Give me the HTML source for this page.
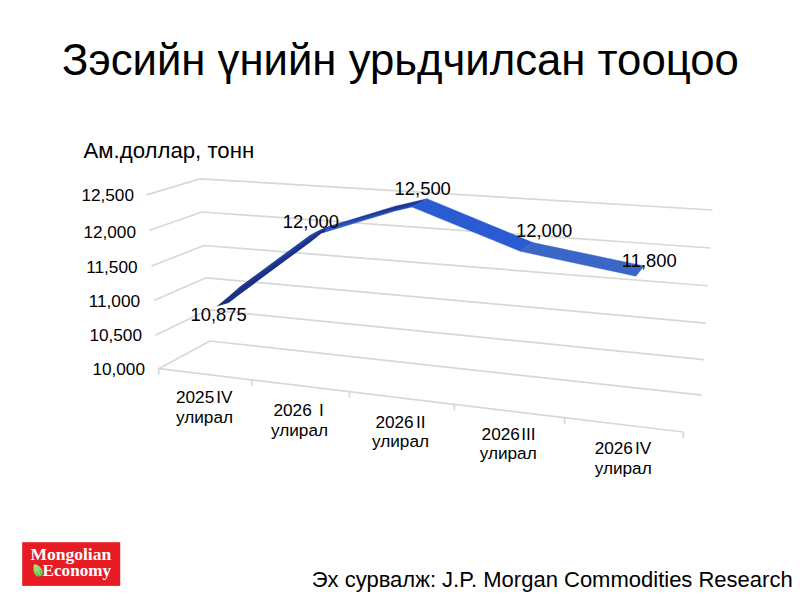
<!DOCTYPE html>
<html><head><meta charset="utf-8"><title>Зэсийн үнийн урьдчилсан тооцоо</title>
<style>
html,body{margin:0;padding:0;background:#fff;}
body{width:800px;height:600px;overflow:hidden;position:relative;}
svg{position:absolute;left:0;top:0;display:block;}
text{font-family:"Liberation Sans",Arial,"DejaVu Sans",sans-serif;fill:#000;}
.ax{font-size:17.2px;fill:#111;}
.cat{font-size:17.2px;fill:#111;}
.dl{font-size:18.4px;fill:#000;}
.logo{font-family:"Liberation Serif","Times New Roman",serif;font-weight:bold;font-size:17.5px;fill:#fff;}
</style></head>
<body>
<svg width="800" height="600" viewBox="0 0 800 600">
  <!-- title -->
  <text x="62" y="75" font-size="43.7">Зэсийн үнийн урьдчилсан тооцоо</text>
  <text x="83.5" y="157.9" font-size="22.2">Ам.доллар, тонн</text>

  <!-- gridlines -->
  <g fill="none" stroke="#d8d8d8" stroke-width="1.75" stroke-linejoin="round">
    <polyline points="146.5,194.8 200,178.8 712.5,210"/>
    <polyline points="149,230.5 202,212 710.3,248"/>
    <polyline points="151.5,266 204.1,245.5 708.1,285.75"/>
    <polyline points="153.9,300.5 206.1,277.8 705.9,323.1"/>
    <polyline points="155.4,335.2 208.1,309.7 703.8,359.6"/>
    <polyline points="158.7,368.7 210,341 701.7,395.2"/>
    <line x1="158.7" y1="368.7" x2="683.3" y2="432"/>
    <line x1="158.7" y1="368.7" x2="158.7" y2="374.7"/>
    <line x1="251.75" y1="379.9" x2="251.75" y2="385.9"/>
    <line x1="349.5" y1="391.7" x2="349.5" y2="397.7"/>
    <line x1="454.4" y1="404.4" x2="454.4" y2="410.4"/>
    <line x1="564.5" y1="417.7" x2="564.5" y2="423.7"/>
    <line x1="683.3" y1="432" x2="683.3" y2="438"/>
  </g>

  <!-- y axis labels -->
  <g class="ax" text-anchor="end">
    <text x="134" y="201">12,500</text>
    <text x="136" y="238">12,000</text>
    <text x="137.5" y="272.5">11,500</text>
    <text x="140" y="307">11,000</text>
    <text x="142" y="341">10,500</text>
    <text x="145" y="375">10,000</text>
  </g>

  <!-- category labels -->
  <g class="cat">
    <text x="176" y="403">2025</text><text x="232.5" y="403" text-anchor="end">IV</text><text x="176" y="422.5">улирал</text>
    <text x="273.5" y="415.6">2026</text><text x="323.75" y="415.6" text-anchor="end">I</text><text x="271" y="435.6">улирал</text>
    <text x="375.4" y="427.5">2026</text><text x="425.6" y="427.5" text-anchor="end">II</text><text x="372" y="447">улирал</text>
    <text x="481.6" y="440">2026</text><text x="535.6" y="440" text-anchor="end">III</text><text x="479.7" y="459.4">улирал</text>
    <text x="594.7" y="453.75">2026</text><text x="651.25" y="453.75" text-anchor="end">IV</text><text x="594.7" y="473.75">улирал</text>
  </g>

  <!-- ribbon -->
  <defs>
    <linearGradient id="gA" gradientUnits="userSpaceOnUse" x1="271.6" y1="261.2" x2="275.2" y2="266.3">
      <stop offset="0" stop-color="#3465d2"/>
      <stop offset="0.3" stop-color="#2446a6"/>
      <stop offset="0.7" stop-color="#1c3588"/>
      <stop offset="1" stop-color="#1a3080"/>
    </linearGradient>
    <linearGradient id="gB" gradientUnits="userSpaceOnUse" x1="360" y1="216.8" x2="361.1" y2="221.2">
      <stop offset="0" stop-color="#1c3488"/>
      <stop offset="0.4" stop-color="#2444aa"/>
      <stop offset="1" stop-color="#2d5cc8"/>
    </linearGradient>
  </defs>
  <g stroke-linejoin="round" stroke-width="0.4">
    <polygon fill="url(#gB)" stroke="#2444aa" points="321.5,233.2 326,227.3 395,206.2 427,198.75 412,207 395,211 350,224.6"/>
    <polygon fill="url(#gA)" stroke="none" points="216.5,306.5 228,296.9 240,286.5 310,235 318,230.8 326,227.3 325,231.8 321.5,233.2 310,242.4 241,293.5 228.5,303"/>
    <polygon fill="#2b5bd2" stroke="#2b5bd2" points="427,198.75 533,242.6 520.25,251.3 412,207"/>
    <polygon fill="#3a66c8" stroke="#3a66c8" points="533,242.6 644,265.9 635.9,276.2 520.25,251.3"/>
  </g>

  <!-- data labels -->
  <g class="dl">
    <text x="190.5" y="321.1">10,875</text>
    <text x="282.7" y="228.2">12,000</text>
    <text x="394.6" y="195">12,500</text>
    <text x="516" y="236.9">12,000</text>
    <text x="621.8" y="267">11,800</text>
  </g>

  <!-- logo -->
  <rect x="22.2" y="542.2" width="98" height="43.7" fill="#e71b24"/>
  <text class="logo" x="30.5" y="560.1">Mongolian</text>
  <text class="logo" x="42.6" y="576.2" style="font-size:17.1px">Economy</text>
  <defs><linearGradient id="gLeaf" x1="0" y1="0" x2="0" y2="1">
    <stop offset="0" stop-color="#b6e37e"/><stop offset="0.5" stop-color="#8fd765"/><stop offset="1" stop-color="#3fbf3a"/>
  </linearGradient></defs>
  <path transform="translate(37.6,570.2) rotate(-27)" d="M0,-7 C3.6,-4.2 5,0.8 3.8,4.2 C2.6,7.4 -2.6,7.4 -3.8,4.2 C-5,0.8 -3.6,-4.2 0,-7 Z" fill="url(#gLeaf)"/>
  <path transform="translate(37.6,570.2) rotate(-27)" d="M0,-5.5 L0,6.5" stroke="#a8e890" stroke-width="0.6" fill="none"/>

  <!-- source -->
  <text x="311.75" y="586.6" font-size="22">Эх сурвалж: J.P. Morgan Commodities Research</text>
</svg>
</body></html>
